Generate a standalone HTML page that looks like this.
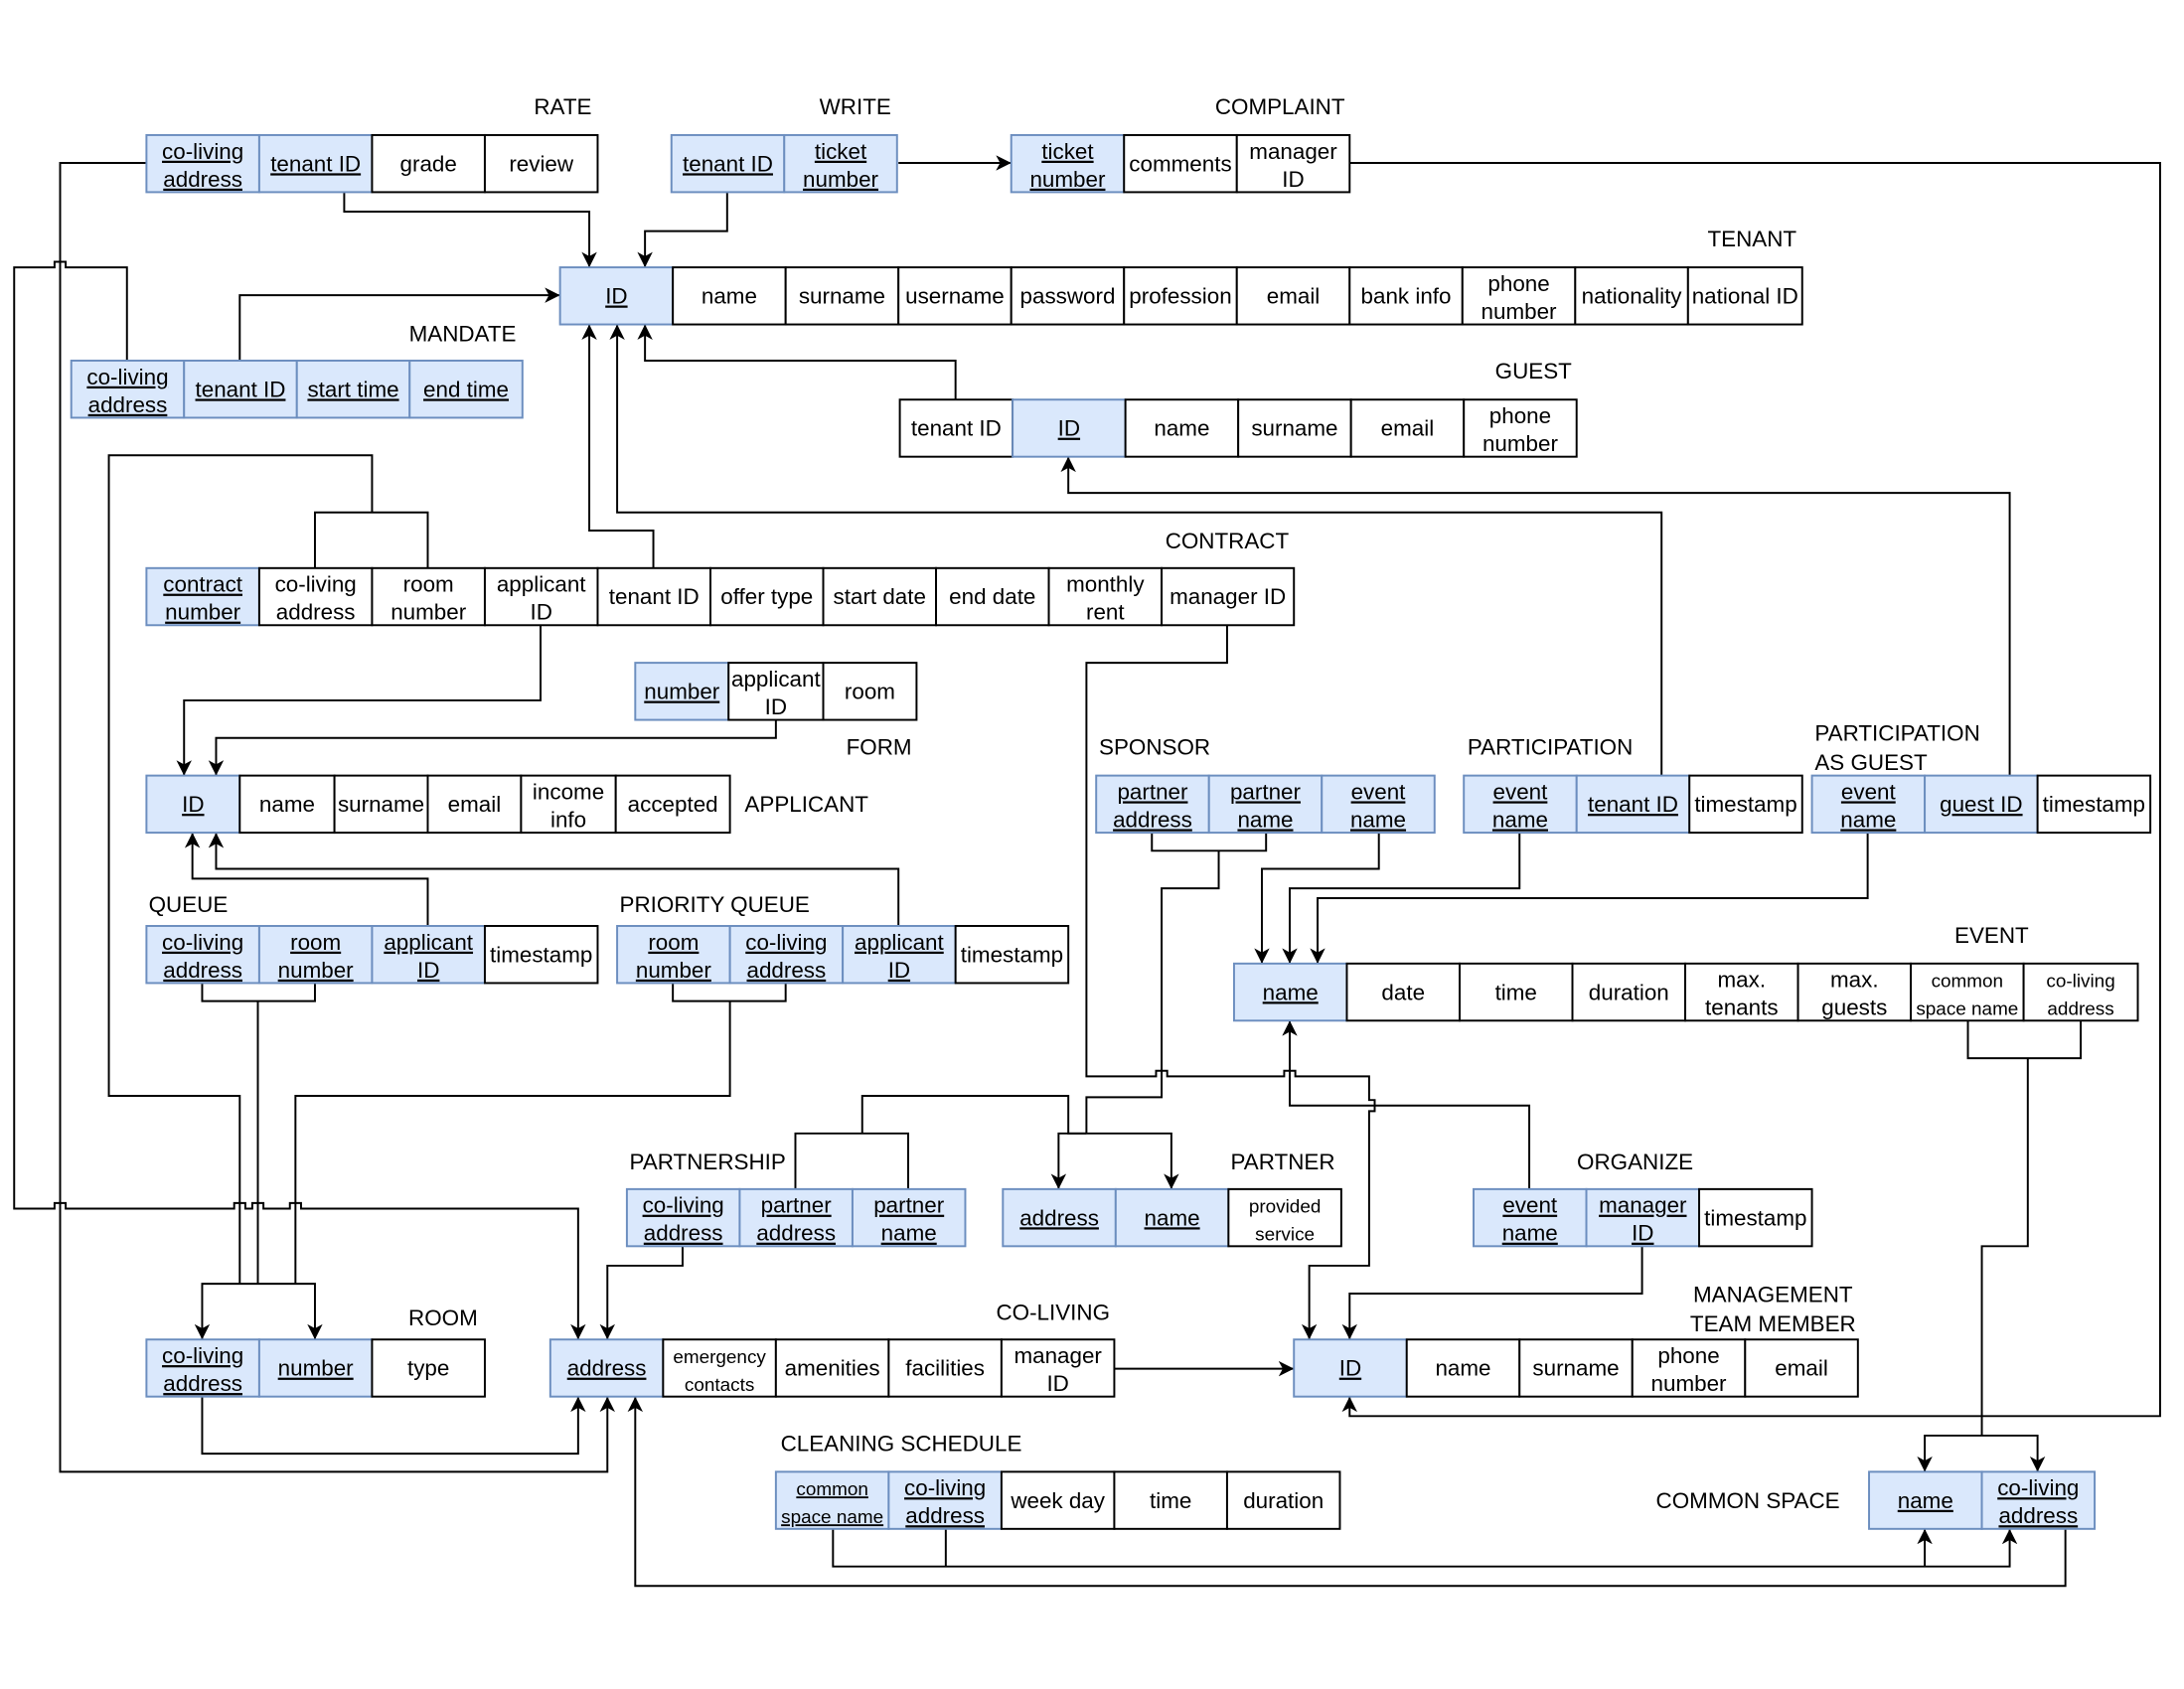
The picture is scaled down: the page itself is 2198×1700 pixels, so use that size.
<!DOCTYPE html>
<html><head><meta charset="utf-8"><style>
html,body{margin:0;padding:0;background:#fff;}
svg{display:block;}
text{font-family:"Liberation Sans",Arial,sans-serif;font-size:16px;fill:#000;}
.l{text-anchor:middle;}
.u{text-decoration:underline;}
.s{font-size:13.5px;}
.b{fill:#dae8fc;stroke:#6c8ebf;stroke-width:1.4;}
.w{fill:#fff;stroke:#000;stroke-width:1.4;}
.c{fill:none;stroke:#000;stroke-width:1.4;}
</style></head><body>
<svg width="2198" height="1700" viewBox="0 0 1568 1213" xmlns="http://www.w3.org/2000/svg">
<defs><marker id="a" markerUnits="userSpaceOnUse" markerWidth="14" markerHeight="14" refX="11" refY="5.5" orient="auto"><path d="M0,0 L11,5.5 L0,11 L3,5.5 z" fill="#000"/></marker></defs>

<g class="c" marker-end="url(#a)">
<path d="M247 138 V152 H423 V192"/>
<path d="M522 138 V166 H463 V192"/>
<path d="M645 117 H726"/>
<path d="M969 117 H1551 V1017 H969 V1003"/>
<path d="M105 117 H43 V1057 H436 V1003"/>
<path d="M91 259 V192 H47 V188 H39 V192 H10 V868 H39 V864 H47 V868 H168 V864 H176 V868 H181 V864 H189 V868 H208 V864 H216 V868 H415 V962"/>
<path d="M172 259 V212 H402"/>
<path d="M686 287 V259 H463 V233"/>
<path d="M469 408 V381 H423 V233"/>
<path d="M1193 557 V368 H443 V233"/>
<path d="M1443 557 V354 H767 V328"/>
<path d="M185 922 H145 V962"/>
<path d="M185 922 H226 V962"/>
<path d="M388 449 V503 H132 V557"/>
<path d="M557 517 V530 H155 V557"/>
<path d="M307 665 V631 H138 V598"/>
<path d="M645 665 V624 H155 V598"/>
<path d="M881 449 V476 H780 V773 H830 V769 H838 V773 H922 V769 H930 V773 H983 V790 H987 V798 H983 V909 H940 V962"/>
<path d="M780 814 H760 V854"/>
<path d="M780 814 H841 V854"/>
<path d="M990 598 V624 H906 V692"/>
<path d="M1091 598 V638 H926 V692"/>
<path d="M1341 598 V645 H946 V692"/>
<path d="M1098 854 V794 H926 V733"/>
<path d="M1179 895 V929 H969 V962"/>
<path d="M1423 1031 H1382 V1057"/>
<path d="M1423 1031 H1463 V1057"/>
<path d="M490 895 V909 H436 V962"/>
<path d="M145 1003 V1044 H415 V1003"/>
<path d="M800 983 H929"/>
<path d="M598 1098 V1125 H1443 V1098"/>
<path d="M1382 1125 V1098"/>
<path d="M1483 1098 V1139 H456 V1003"/>
</g>
<g class="c">
<path d="M226 408 V368 H307 V408"/>
<path d="M267 368 V327 H78 V787 H172 V922"/>
<path d="M145 706 V719 H226 V706"/>
<path d="M185 719 V922"/>
<path d="M483 706 V719 H564 V706"/>
<path d="M524 719 V787 H212 V922"/>
<path d="M827 598 V611 H909 V598"/>
<path d="M875 611 V638 H834 V788 H780 V814"/>
<path d="M571 854 V814 H652 V854"/>
<path d="M619 814 V787 H767 V814 H780"/>
<path d="M1413 733 V760 H1494 V733"/>
<path d="M1456 760 V895 H1423 V1031"/>
<path d="M679 1098 V1125"/>
</g>

<rect class="b" x="105" y="97" width="81" height="41"/><text class="l u" x="145.5" y="114">co-living</text><text class="l u" x="145.5" y="134">address</text>
<rect class="b" x="186" y="97" width="81" height="41"/><text class="l u" x="226.5" y="123">tenant ID</text>
<rect class="w" x="267" y="97" width="81" height="41"/><text class="l" x="307.5" y="123">grade</text>
<rect class="w" x="348" y="97" width="81" height="41"/><text class="l" x="388.5" y="123">review</text>
<rect class="b" x="482" y="97" width="81" height="41"/><text class="l u" x="522.5" y="123">tenant ID</text>
<rect class="b" x="563" y="97" width="81" height="41"/><text class="l u" x="603.5" y="114">ticket</text><text class="l u" x="603.5" y="134">number</text>
<rect class="b" x="726" y="97" width="81" height="41"/><text class="l u" x="766.5" y="114">ticket</text><text class="l u" x="766.5" y="134">number</text>
<rect class="w" x="807" y="97" width="81" height="41"/><text class="l" x="847.5" y="123">comments</text>
<rect class="w" x="888" y="97" width="81" height="41"/><text class="l" x="928.5" y="114">manager</text><text class="l" x="928.5" y="134">ID</text>
<rect class="b" x="402" y="192" width="81" height="41"/><text class="l u" x="442.5" y="218">ID</text>
<rect class="w" x="483" y="192" width="81" height="41"/><text class="l" x="523.5" y="218">name</text>
<rect class="w" x="564" y="192" width="81" height="41"/><text class="l" x="604.5" y="218">surname</text>
<rect class="w" x="645" y="192" width="81" height="41"/><text class="l" x="685.5" y="218">username</text>
<rect class="w" x="726" y="192" width="81" height="41"/><text class="l" x="766.5" y="218">password</text>
<rect class="w" x="807" y="192" width="81" height="41"/><text class="l" x="847.5" y="218">profession</text>
<rect class="w" x="888" y="192" width="81" height="41"/><text class="l" x="928.5" y="218">email</text>
<rect class="w" x="969" y="192" width="81" height="41"/><text class="l" x="1009.5" y="218">bank info</text>
<rect class="w" x="1050" y="192" width="81" height="41"/><text class="l" x="1090.5" y="209">phone</text><text class="l" x="1090.5" y="229">number</text>
<rect class="w" x="1131" y="192" width="81" height="41"/><text class="l" x="1171.5" y="218">nationality</text>
<rect class="w" x="1212" y="192" width="82" height="41"/><text class="l" x="1253" y="218">national ID</text>
<rect class="b" x="51" y="259" width="81" height="41"/><text class="l u" x="91.5" y="276">co-living</text><text class="l u" x="91.5" y="296">address</text>
<rect class="b" x="132" y="259" width="81" height="41"/><text class="l u" x="172.5" y="285">tenant ID</text>
<rect class="b" x="213" y="259" width="81" height="41"/><text class="l u" x="253.5" y="285">start time</text>
<rect class="b" x="294" y="259" width="81" height="41"/><text class="l u" x="334.5" y="285">end time</text>
<rect class="w" x="646" y="287" width="81" height="41"/><text class="l" x="686.5" y="313">tenant ID</text>
<rect class="b" x="727" y="287" width="81" height="41"/><text class="l u" x="767.5" y="313">ID</text>
<rect class="w" x="808" y="287" width="81" height="41"/><text class="l" x="848.5" y="313">name</text>
<rect class="w" x="889" y="287" width="81" height="41"/><text class="l" x="929.5" y="313">surname</text>
<rect class="w" x="970" y="287" width="81" height="41"/><text class="l" x="1010.5" y="313">email</text>
<rect class="w" x="1051" y="287" width="81" height="41"/><text class="l" x="1091.5" y="304">phone</text><text class="l" x="1091.5" y="324">number</text>
<rect class="b" x="105" y="408" width="81" height="41"/><text class="l u" x="145.5" y="425">contract</text><text class="l u" x="145.5" y="445">number</text>
<rect class="w" x="186" y="408" width="81" height="41"/><text class="l" x="226.5" y="425">co-living</text><text class="l" x="226.5" y="445">address</text>
<rect class="w" x="267" y="408" width="81" height="41"/><text class="l" x="307.5" y="425">room</text><text class="l" x="307.5" y="445">number</text>
<rect class="w" x="348" y="408" width="81" height="41"/><text class="l" x="388.5" y="425">applicant</text><text class="l" x="388.5" y="445">ID</text>
<rect class="w" x="429" y="408" width="81" height="41"/><text class="l" x="469.5" y="434">tenant ID</text>
<rect class="w" x="510" y="408" width="81" height="41"/><text class="l" x="550.5" y="434">offer type</text>
<rect class="w" x="591" y="408" width="81" height="41"/><text class="l" x="631.5" y="434">start date</text>
<rect class="w" x="672" y="408" width="81" height="41"/><text class="l" x="712.5" y="434">end date</text>
<rect class="w" x="753" y="408" width="81" height="41"/><text class="l" x="793.5" y="425">monthly</text><text class="l" x="793.5" y="445">rent</text>
<rect class="w" x="834" y="408" width="95" height="41"/><text class="l" x="881.5" y="434">manager ID</text>
<rect class="b" x="456" y="476" width="67" height="41"/><text class="l u" x="489.5" y="502">number</text>
<rect class="w" x="523" y="476" width="68" height="41"/><text class="l" x="557" y="493">applicant</text><text class="l" x="557" y="513">ID</text>
<rect class="w" x="591" y="476" width="67" height="41"/><text class="l" x="624.5" y="502">room</text>
<rect class="b" x="105" y="557" width="67" height="41"/><text class="l u" x="138.5" y="583">ID</text>
<rect class="w" x="172" y="557" width="68" height="41"/><text class="l" x="206" y="583">name</text>
<rect class="w" x="240" y="557" width="67" height="41"/><text class="l" x="273.5" y="583">surname</text>
<rect class="w" x="307" y="557" width="67" height="41"/><text class="l" x="340.5" y="583">email</text>
<rect class="w" x="374" y="557" width="68" height="41"/><text class="l" x="408" y="574">income</text><text class="l" x="408" y="594">info</text>
<rect class="w" x="442" y="557" width="82" height="41"/><text class="l" x="483" y="583">accepted</text>
<rect class="b" x="105" y="665" width="81" height="41"/><text class="l u" x="145.5" y="682">co-living</text><text class="l u" x="145.5" y="702">address</text>
<rect class="b" x="186" y="665" width="81" height="41"/><text class="l u" x="226.5" y="682">room</text><text class="l u" x="226.5" y="702">number</text>
<rect class="b" x="267" y="665" width="81" height="41"/><text class="l u" x="307.5" y="682">applicant</text><text class="l u" x="307.5" y="702">ID</text>
<rect class="w" x="348" y="665" width="81" height="41"/><text class="l" x="388.5" y="691">timestamp</text>
<rect class="b" x="443" y="665" width="81" height="41"/><text class="l u" x="483.5" y="682">room</text><text class="l u" x="483.5" y="702">number</text>
<rect class="b" x="524" y="665" width="81" height="41"/><text class="l u" x="564.5" y="682">co-living</text><text class="l u" x="564.5" y="702">address</text>
<rect class="b" x="605" y="665" width="81" height="41"/><text class="l u" x="645.5" y="682">applicant</text><text class="l u" x="645.5" y="702">ID</text>
<rect class="w" x="686" y="665" width="81" height="41"/><text class="l" x="726.5" y="691">timestamp</text>
<rect class="b" x="787" y="557" width="81" height="41"/><text class="l u" x="827.5" y="574">partner</text><text class="l u" x="827.5" y="594">address</text>
<rect class="b" x="868" y="557" width="81" height="41"/><text class="l u" x="908.5" y="574">partner</text><text class="l u" x="908.5" y="594">name</text>
<rect class="b" x="949" y="557" width="81" height="41"/><text class="l u" x="989.5" y="574">event</text><text class="l u" x="989.5" y="594">name</text>
<rect class="b" x="1051" y="557" width="81" height="41"/><text class="l u" x="1091.5" y="574">event</text><text class="l u" x="1091.5" y="594">name</text>
<rect class="b" x="1132" y="557" width="81" height="41"/><text class="l u" x="1172.5" y="583">tenant ID</text>
<rect class="w" x="1213" y="557" width="81" height="41"/><text class="l" x="1253.5" y="583">timestamp</text>
<rect class="b" x="1301" y="557" width="81" height="41"/><text class="l u" x="1341.5" y="574">event</text><text class="l u" x="1341.5" y="594">name</text>
<rect class="b" x="1382" y="557" width="81" height="41"/><text class="l u" x="1422.5" y="583">guest ID</text>
<rect class="w" x="1463" y="557" width="81" height="41"/><text class="l" x="1503.5" y="583">timestamp</text>
<rect class="b" x="886" y="692" width="81" height="41"/><text class="l u" x="926.5" y="718">name</text>
<rect class="w" x="967" y="692" width="81" height="41"/><text class="l" x="1007.5" y="718">date</text>
<rect class="w" x="1048" y="692" width="81" height="41"/><text class="l" x="1088.5" y="718">time</text>
<rect class="w" x="1129" y="692" width="81" height="41"/><text class="l" x="1169.5" y="718">duration</text>
<rect class="w" x="1210" y="692" width="81" height="41"/><text class="l" x="1250.5" y="709">max.</text><text class="l" x="1250.5" y="729">tenants</text>
<rect class="w" x="1291" y="692" width="81" height="41"/><text class="l" x="1331.5" y="709">max.</text><text class="l" x="1331.5" y="729">guests</text>
<rect class="w" x="1372" y="692" width="81" height="41"/><text class="l s" x="1412.5" y="709">common</text><text class="l s" x="1412.5" y="729">space name</text>
<rect class="w" x="1453" y="692" width="82" height="41"/><text class="l s" x="1494" y="709">co-living</text><text class="l s" x="1494" y="729">address</text>
<rect class="b" x="450" y="854" width="81" height="41"/><text class="l u" x="490.5" y="871">co-living</text><text class="l u" x="490.5" y="891">address</text>
<rect class="b" x="531" y="854" width="81" height="41"/><text class="l u" x="571.5" y="871">partner</text><text class="l u" x="571.5" y="891">address</text>
<rect class="b" x="612" y="854" width="81" height="41"/><text class="l u" x="652.5" y="871">partner</text><text class="l u" x="652.5" y="891">name</text>
<rect class="b" x="720" y="854" width="81" height="41"/><text class="l u" x="760.5" y="880">address</text>
<rect class="b" x="801" y="854" width="81" height="41"/><text class="l u" x="841.5" y="880">name</text>
<rect class="w" x="882" y="854" width="81" height="41"/><text class="l s" x="922.5" y="871">provided</text><text class="l s" x="922.5" y="891">service</text>
<rect class="b" x="1058" y="854" width="81" height="41"/><text class="l u" x="1098.5" y="871">event</text><text class="l u" x="1098.5" y="891">name</text>
<rect class="b" x="1139" y="854" width="81" height="41"/><text class="l u" x="1179.5" y="871">manager</text><text class="l u" x="1179.5" y="891">ID</text>
<rect class="w" x="1220" y="854" width="81" height="41"/><text class="l" x="1260.5" y="880">timestamp</text>
<rect class="b" x="105" y="962" width="81" height="41"/><text class="l u" x="145.5" y="979">co-living</text><text class="l u" x="145.5" y="999">address</text>
<rect class="b" x="186" y="962" width="81" height="41"/><text class="l u" x="226.5" y="988">number</text>
<rect class="w" x="267" y="962" width="81" height="41"/><text class="l" x="307.5" y="988">type</text>
<rect class="b" x="395" y="962" width="81" height="41"/><text class="l u" x="435.5" y="988">address</text>
<rect class="w" x="476" y="962" width="81" height="41"/><text class="l s" x="516.5" y="979">emergency</text><text class="l s" x="516.5" y="999">contacts</text>
<rect class="w" x="557" y="962" width="81" height="41"/><text class="l" x="597.5" y="988">amenities</text>
<rect class="w" x="638" y="962" width="81" height="41"/><text class="l" x="678.5" y="988">facilities</text>
<rect class="w" x="719" y="962" width="81" height="41"/><text class="l" x="759.5" y="979">manager</text><text class="l" x="759.5" y="999">ID</text>
<rect class="b" x="929" y="962" width="81" height="41"/><text class="l u" x="969.5" y="988">ID</text>
<rect class="w" x="1010" y="962" width="81" height="41"/><text class="l" x="1050.5" y="988">name</text>
<rect class="w" x="1091" y="962" width="81" height="41"/><text class="l" x="1131.5" y="988">surname</text>
<rect class="w" x="1172" y="962" width="81" height="41"/><text class="l" x="1212.5" y="979">phone</text><text class="l" x="1212.5" y="999">number</text>
<rect class="w" x="1253" y="962" width="81" height="41"/><text class="l" x="1293.5" y="988">email</text>
<rect class="b" x="557" y="1057" width="81" height="41"/><text class="l s u" x="597.5" y="1074">common</text><text class="l s u" x="597.5" y="1094">space name</text>
<rect class="b" x="638" y="1057" width="81" height="41"/><text class="l u" x="678.5" y="1074">co-living</text><text class="l u" x="678.5" y="1094">address</text>
<rect class="w" x="719" y="1057" width="81" height="41"/><text class="l" x="759.5" y="1083">week day</text>
<rect class="w" x="800" y="1057" width="81" height="41"/><text class="l" x="840.5" y="1083">time</text>
<rect class="w" x="881" y="1057" width="81" height="41"/><text class="l" x="921.5" y="1083">duration</text>
<rect class="b" x="1342" y="1057" width="81" height="41"/><text class="l u" x="1382.5" y="1083">name</text>
<rect class="b" x="1423" y="1057" width="81" height="41"/><text class="l u" x="1463.5" y="1074">co-living</text><text class="l u" x="1463.5" y="1094">address</text>

<text class="l" x="404" y="82">RATE</text>
<text class="l" x="614" y="82">WRITE</text>
<text class="l" x="919" y="82">COMPLAINT</text>
<text class="l" x="1258" y="177">TENANT</text>
<text class="l" x="332" y="245">MANDATE</text>
<text class="l" x="1101" y="272">GUEST</text>
<text class="l" x="881" y="394">CONTRACT</text>
<text class="l" x="631" y="542">FORM</text>
<text class="l" x="579" y="583">APPLICANT</text>
<text class="l" x="135" y="655">QUEUE</text>
<text class="l" x="513" y="655">PRIORITY QUEUE</text>
<text class="l" x="829" y="542">SPONSOR</text>
<text class="l" x="1113" y="542">PARTICIPATION</text>
<text x="1303" y="532">PARTICIPATION</text>
<text x="1303" y="553">AS GUEST</text>
<text class="l" x="1430" y="677">EVENT</text>
<text class="l" x="508" y="840">PARTNERSHIP</text>
<text class="l" x="921" y="840">PARTNER</text>
<text class="l" x="1174" y="840">ORGANIZE</text>
<text class="l" x="318" y="952">ROOM</text>
<text class="l" x="756" y="948">CO-LIVING</text>
<text class="l" x="1273" y="935">MANAGEMENT</text>
<text class="l" x="1273" y="956">TEAM MEMBER</text>
<text class="l" x="647" y="1042">CLEANING SCHEDULE</text>
<text class="l" x="1255" y="1083">COMMON SPACE</text>
</svg>
</body></html>
